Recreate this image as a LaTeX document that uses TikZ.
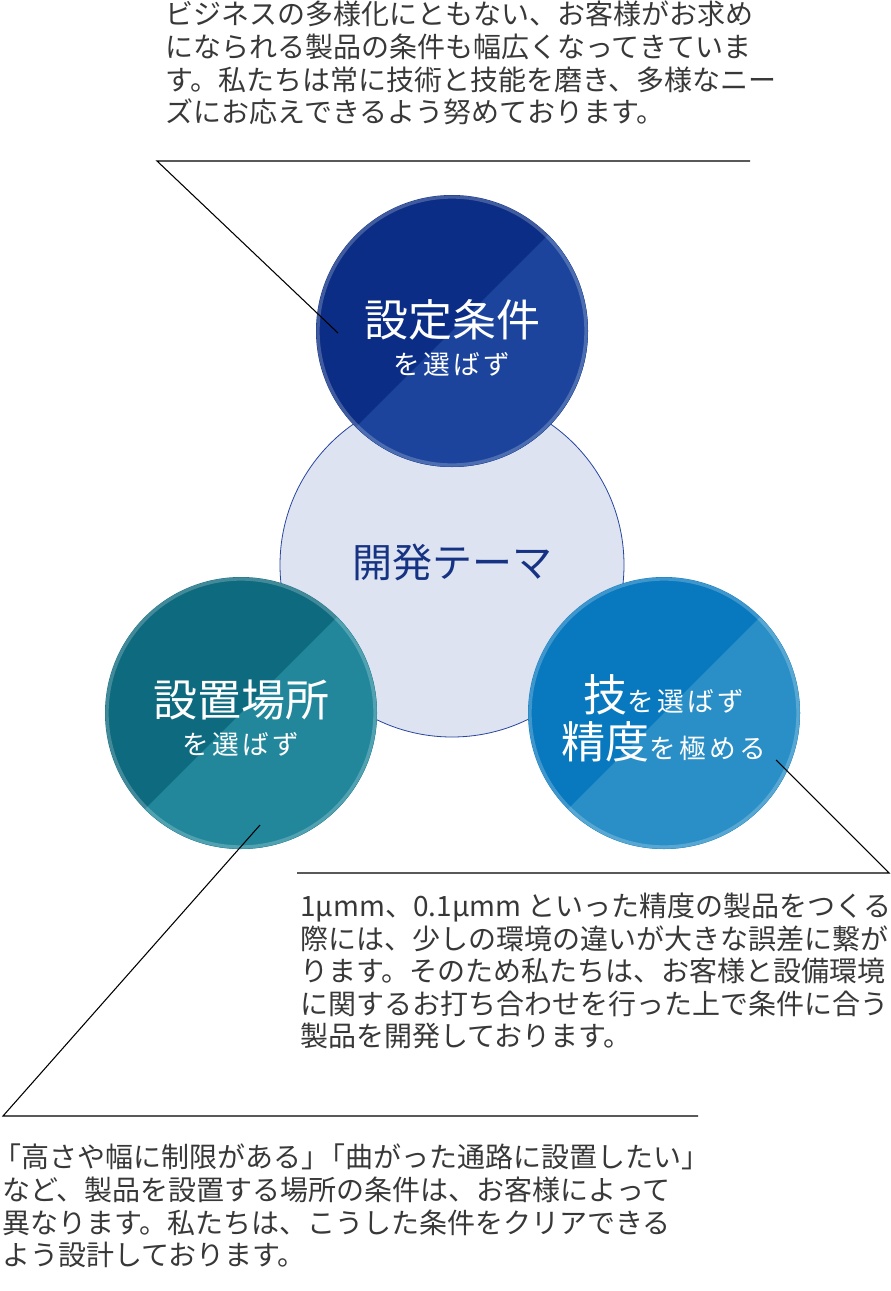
\documentclass[tikz,border=0pt]{standalone}
\usepackage{fontspec}
\usetikzlibrary{calc}
\newfontfamily\jp{Noto Sans CJK JP}
\setmainfont{Noto Sans CJK JP}
\begin{document}
\begin{tikzpicture}[x=0.75pt,y=-0.75pt,
  body/.style={anchor=north west,align=left,font=\jp\fontsize{21}{24.4}\selectfont,text=black!78,inner sep=0},
  lead/.style={draw=black,line width=0.8pt},
  disk/.style={circle,minimum size=272*0.75pt,inner sep=0,text=white,align=center}]
\useasboundingbox (0,0) rectangle (891,1291);
\definecolor{navyA}{HTML}{0C2D85}\definecolor{navyB}{HTML}{1C449C}
\definecolor{tealA}{HTML}{0E6A7E}\definecolor{tealB}{HTML}{22879B}
\definecolor{blueA}{HTML}{0879BE}\definecolor{blueB}{HTML}{2A8FC7}
\node[circle,minimum size=344*0.75pt,draw={rgb,255:red,40;green,70;blue,160},line width=0.6pt,fill={rgb,255:red,221;green,227;blue,240}] (c) at (452,565) {};
\node[text={rgb,255:red,22;green,50;blue,130},font=\jp\fontsize{30}{34}\selectfont] (ct) at (452,562) {開発テーマ};
\newcommand{\mydisk}[3]{%
 \fill[#2] (#1) circle (136*0.75pt);
 \begin{scope}\clip (#1) circle (136*0.75pt);
 \fill[#3] ($(#1)+(200,-200)$) -- ($(#1)+(-200,200)$) -- ($(#1)+(200,200)$) -- cycle;
 \end{scope}
 \draw[white,opacity=0.22,line width=2.5pt] (#1) circle (134*0.75pt);}
\newcommand{\bg}[1]{{\fontsize{33}{36}\selectfont #1}}
\newcommand{\sm}[1]{{\fontsize{20}{24}\selectfont\addfontfeatures{LetterSpace=12} #1}}
\coordinate (pt) at (452,331);\coordinate (pl) at (241,713);\coordinate (pr) at (664,713);
\mydisk{pt}{navyA}{navyB}\mydisk{pl}{tealA}{tealB}\mydisk{pr}{blueA}{blueB}
\node[disk] (t) at (452,338) {\bg{設定条件}\\[8pt]\sm{を選ばず}};
\node[disk] (l) at (241,718) {\bg{設置場所}\\[8pt]\sm{を選ばず}};
\node[disk] (r) at (664,718) {\bg{技}\sm{を選ばず}\\[4pt]\bg{精度}\sm{を極める}};
% texts
\node[body] (tt) at (165,1) {ビジネスの多様化にともない、お客様がお求め\\になられる製品の条件も幅広くなってきていま\\す。私たちは常に技術と技能を磨き、多様なニー\\ズにお応えできるよう努めております。};
\node[body] (rt) at (300,893) {1µmm、0.1µmm といった精度の製品をつくる\\際には、少しの環境の違いが大きな誤差に繋が\\ります。そのため私たちは、お客様と設備環境\\に関するお打ち合わせを行った上で条件に合う\\製品を開発しております。};
\node[body] (lt) at (2,1144) {\kern-0.3em「高さや幅に制限がある」\kern-0.45em「曲がった通路に設置したい」\\など、製品を設置する場所の条件は、お客様によって\\異なります。私たちは、こうした条件をクリアできる\\よう設計しております。};
% leaders
\coordinate (a1) at (157,161);\coordinate (a2) at (750,161);\coordinate (a3) at (338,333);
\coordinate (b1) at (297,873);\coordinate (b2) at (889,873);\coordinate (b3) at (776,760);
\coordinate (c1) at (3,1116);\coordinate (c2) at (698,1116);\coordinate (c3) at (260,825);
\draw[lead] (a3) -- (a1) -- (a2);
\draw[lead] (b3) -- (b2) -- (b1);
\draw[lead] (c3) -- (c1) -- (c2);
\end{tikzpicture}
\end{document}
